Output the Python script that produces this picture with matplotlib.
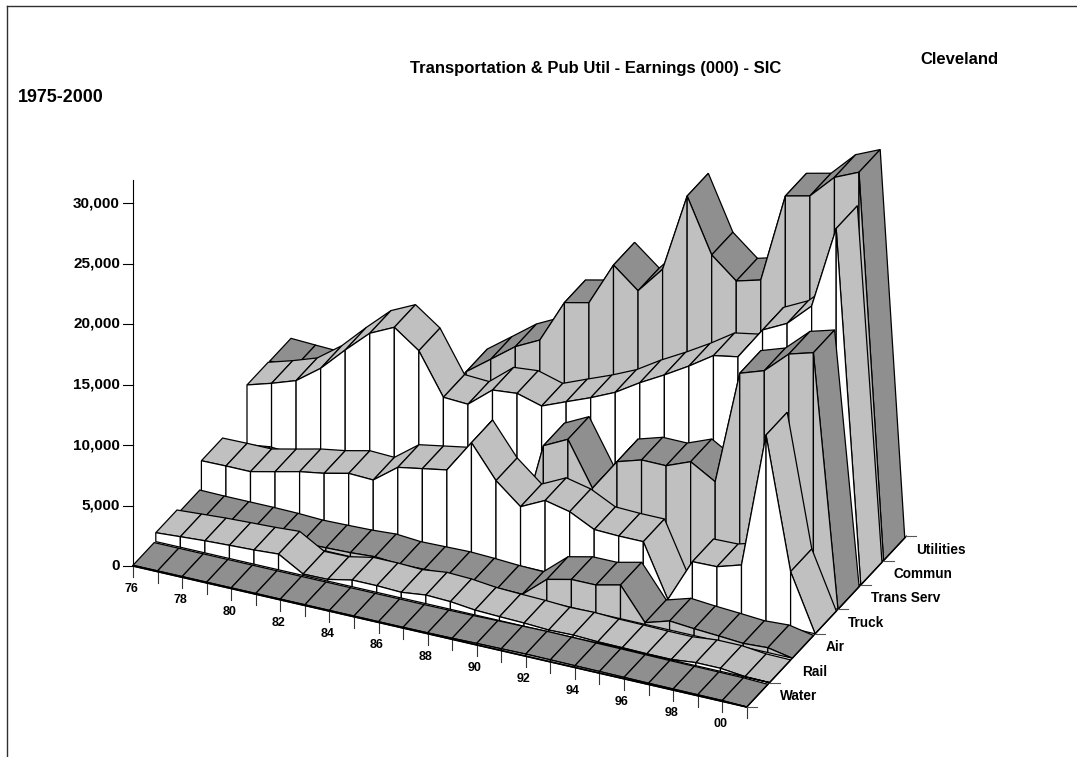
import matplotlib
matplotlib.use('Agg')
import matplotlib.pyplot as plt
from matplotlib.patches import Polygon

plt.rcParams['font.family'] = ['Liberation Sans', 'DejaVu Sans']
plt.rcParams['font.weight'] = 'bold'

# values, 26 points each
water = [60, 60, 60, 60, 60, 60, 60, 60, 60, 60, 60, 60, 70, 90,
         130, 150, 180, 170, 150, 140, 120, 100, 90, 80, 70, 0]
rail = [735, 870, 1000, 1090, 1170, 1300, 115, 140, 550, 550, 470, 710, 630, 400,
        320, 260, 150, 200, 110, 90, 50, 50, 250, 250, 30, 0]
air = [370, 340, 340, 340, 310, 220, 270, 330, 460, 300, 350, 400, 320, 200,
       150, 1850, 2310, 2320, 2790, 140, 745, 570, 440, 290, 400, 0]
truck = [2650, 2680, 2680, 3140, 3610, 3940, 4400, 4320, 5830, 6190, 6550, 9270, 6600, 4910,
         5890, 5430, 4420, 4350, 4350, 40, 3630, 3680, 4290, 15500, 4670, 0]
trans_serv = [100, 380, 250, 300, 300, 300, 300, 300, 300, 300, 300, 300, 210, 7930,
              8930, 5350, 8010, 8620, 8610, 9410, 8220, 17650, 18330, 20170, 20750, 0]
commun = [4880, 5480, 6170, 7650, 9630, 11480, 12440, 10970, 7590, 7480, 9120, 9310, 8730, 9550,
          10350, 11260, 12520, 13630, 14830, 16160, 16530, 19210, 20220, 22120, 29000, 0]
utilities = [4840, 4750, 4670, 5000, 6000, 7000, 7500, 4800, 7690, 9180, 10690, 11700, 15260, 15720,
             19300, 17640, 19880, 26400, 22000, 20310, 20860, 28270, 28740, 30740, 31630, 0]

series = [water, rail, air, truck, trans_serv, commun, utilities]
series_names = ['Water', 'Rail', 'Air', 'Truck', 'Trans Serv', 'Commun', 'Utilities']
year_labels = ['76', '78', '80', '82', '84', '86', '88', '90', '92', '94', '96', '98', '00']
value_ticks = [0, 5000, 10000, 15000, 20000, 25000, 30000]

DARK = '#8f8f8f'
LIGHT = '#c0c0c0'


# oblique projection, year index / series depth / value to pixels
def proj(i, j, v=0):
    x = 133 + 24.55 * i + 22.8 * j
    y = 566 + 5.64 * i - 24.4 * j - v * 0.0121
    return x, y


fig = plt.figure(figsize=(10.77, 7.57), dpi=100)
ax = fig.add_axes([0, 0, 1, 1])
ax.set_xlim(0, 1077)
ax.set_ylim(757, 0)
ax.axis('off')

# frame
ax.plot([7, 7], [757, 6], color='#303030', lw=1)
ax.plot([7, 1077], [6, 6], color='#303030', lw=1)

# titles
ax.text(596, 68.5, 'Transportation & Pub Util - Earnings (000) - SIC', ha='center', va='center', fontsize=12)
ax.text(959, 60, 'Cleveland', ha='center', va='center', fontsize=12)
ax.text(18, 97, '1975-2000', ha='left', va='center', fontsize=12.9)

# value axis
ax.plot([133, 133], [proj(0, 0)[1], 180], color='black', lw=0.8)
for v in value_ticks:
    x, y = proj(0, 0, v)
    ax.plot([x - 10, x], [y, y], color='black', lw=0.8)
    ax.text(x - 13, y, f'{v:,}', ha='right', va='center', fontsize=11)

# year ticks, one for every point
for i in range(26):
    x, y = proj(i, 0)
    ax.plot([x, x], [y, y + 11], color='#333333', lw=0.8)
for k, lab in enumerate(year_labels):
    x, y = proj(2 * k, 0)
    ax.text(x - 2, y + 23, lab, ha='center', va='center', fontsize=9)

# ribbons, back one first and left to right, wall after top
for j in range(6, -1, -1):
    vals = series[j]
    top_col = DARK if j % 2 == 0 else LIGHT
    wall_col = LIGHT if j % 2 == 0 else 'white'
    for i in range(25):
        v0, v1 = vals[i], vals[i + 1]
        top = [proj(i, j, v0), proj(i + 1, j, v1), proj(i + 1, j + 0.93, v1), proj(i, j + 0.93, v0)]
        wall = [proj(i, j, v0), proj(i + 1, j, v1), proj(i + 1, j), proj(i, j)]
        ax.add_patch(Polygon(top, closed=True, facecolor=top_col, edgecolor='black', lw=0.9))
        ax.add_patch(Polygon(wall, closed=True, facecolor=wall_col, edgecolor='black', lw=0.9))

# depth axis with its ticks and names
p0 = proj(25, 0)
p1 = proj(25, 7)
ax.plot([p0[0], p1[0]], [p0[1], p1[1]], color='black', lw=1)
ax.plot([proj(0, 0)[0], p0[0]], [proj(0, 0)[1], p0[1]], color='black', lw=1.2)
for j in [0, 1, 3, 4, 5, 6, 7]:
    x, y = proj(25, j)
    ax.plot([x, x + 10], [y, y], color='#555555', lw=0.8)
for j, name in enumerate(series_names):
    x, y = proj(25, j)
    ax.text(x + 33, y - 11, name, ha='left', va='center', fontsize=9.8)

fig.savefig('out.png', dpi=100)
